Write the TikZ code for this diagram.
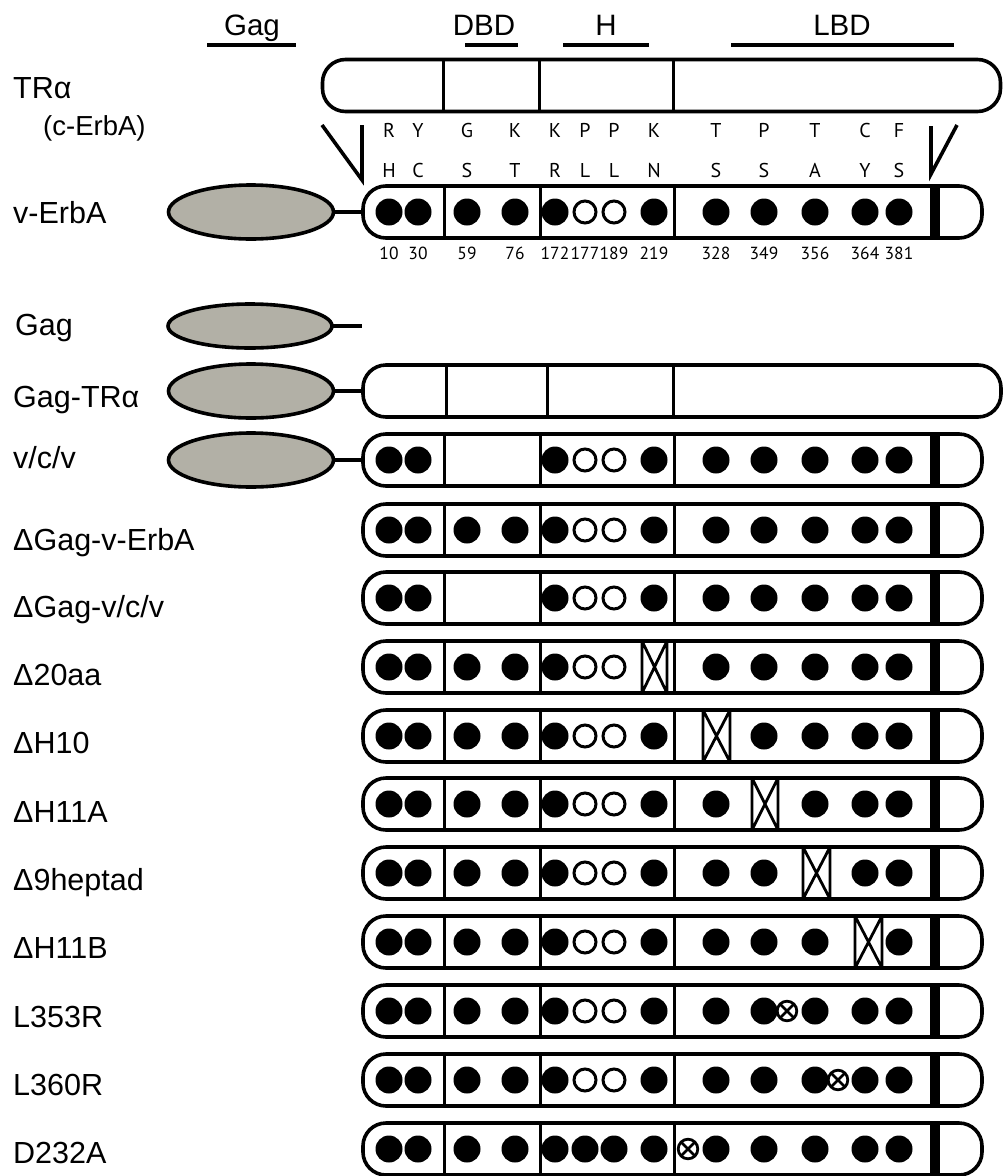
\documentclass[tikz,border=0pt]{standalone}
\usepackage{fontspec}
\setmainfont{Liberation Sans}
\newfontfamily\aafont{PT Sans}
\usetikzlibrary{shapes.geometric}
\definecolor{gaggray}{RGB}{178,176,166}

\newcommand\filldots[1]{\foreach \px in {#1} {\fill (\px,0) circle (13.5pt);}}
\newcommand\opendots[1]{\foreach \px in {#1} {\draw[line width=3pt] (\px,0) circle (11pt);}}
\newcommand\xbox[2]{\draw[line width=2.8pt] (#1,-26) rectangle (#2,26) (#1,-26) -- (#2,26) (#1,26) -- (#2,-26);}
\newcommand\xcirc[1]{\draw[line width=2.8pt, fill=white] (#1,0) circle (9.8pt);
  \draw[line width=2.6pt] (#1,0) ++(-7,-7) -- ++(14,14) (#1,0) ++(-7,7) -- ++(14,-14);}
\newcommand\protrow[2]{%
  \node[prot, minimum width=619pt] (#1) at (363,#2) {};
  \begin{scope}[shift={(0,#2)}]
    \draw[div] (444,-26) -- (444,26) (540,-26) -- (540,26) (674,-26) -- (674,26);
    \fill (929.5,-26) rectangle (939.5,26);
  \end{scope}}

\begin{document}
\begin{tikzpicture}[x=1pt,y=-1pt,
  lbl/.style={anchor=base west, font=\fontsize{30.5}{33}\selectfont, inner sep=0},
  hdr/.style={anchor=base, font=\fontsize{29.5}{32}\selectfont, inner sep=0},
  aa/.style={anchor=base, font=\aafont\fontsize{20}{22}\selectfont, inner sep=0},
  num/.style={anchor=base, font=\aafont\fontsize{17.5}{19}\selectfont, inner sep=0},
  prot/.style={draw, line width=3.6pt, rounded corners=23pt, minimum height=52pt, inner sep=0, outer sep=0, anchor=west},
  gagE/.style={ellipse, draw, line width=3.6pt, fill=gaggray, minimum width=165pt, minimum height=54pt, inner sep=0, outer sep=0},
  div/.style={line width=3pt},
  link/.style={line width=3.4pt},
  bar/.style={line width=3.6pt},
  vmark/.style={line width=3.6pt, miter limit=20}
]
\useasboundingbox (0,0) rectangle (1007,1176);

% header
\node[hdr] (hGag) at (252,35) {Gag};
\node[hdr] (hDBD) at (484,35) {DBD};
\node[hdr] (hH) at (606,35) {H};
\node[hdr] (hLBD) at (842,35) {LBD};
\draw[bar] (207,45) -- (296,45);
\draw[bar] (465,45) -- (518,45);
\draw[bar] (563,45) -- (649,45);
\draw[bar] (731,45) -- (954,45);

% TR alpha
\node[lbl] (lTR) at (13,98.5) {TRα};
\node[lbl, font=\fontsize{27.5}{30}\selectfont] (lcE) at (43,135) {(c-ErbA)};
\node[prot, minimum width=678pt] (pTR) at (322.5,85.5) {};
\draw[div] (443,59.5) -- (443,111.5) (539,59.5) -- (539,111.5) (673,59.5) -- (673,111.5);

% V marks
\draw[vmark] (322,125) -- (362,180) -- (362,125);
\draw[vmark] (931,126) -- (931,174) -- (957,125);

% residues and numbers
\foreach \px/\a/\b/\n in {389/R/H/10, 418/Y/C/30, 467/G/S/59, 515/K/T/76, 555/K/R/172, 585/P/L/177, 614/P/L/189, 654/K/N/219, 716/T/S/328, 764/P/S/349, 815/T/A/356, 865/C/Y/364, 899/F/S/381} {
  \node[aa] (t\n) at (\px,137) {\a};
  \node[aa] (m\n) at (\px,177) {\b};
  \node[num] (n\n) at (\px,259.5) {\n};
}

% v-ErbA
\node[lbl] (l1) at (13,223.5) {v-ErbA};
\node[gagE] (e1) at (251,212) {};
\protrow{p1}{212}
\draw[link] (e1.east) -- (p1.west);
\begin{scope}[shift={(0,212)}]
  \filldots{389,418,467,515,555,654,716,764,815,865,899}
  \opendots{585,614}
\end{scope}

% Gag
\node[lbl] (l2) at (15,335.5) {Gag};
\node[gagE, minimum height=44pt, minimum width=164pt] (e2) at (250,326) {};
\coordinate (gagend) at (362,326);
\draw[link] (e2.east) -- (gagend);

% Gag-TRalpha
\node[lbl] (l3) at (13,407) {Gag-TRα};
\node[gagE] (e3) at (251,391) {};
\node[prot, minimum width=638pt] (p3) at (363,391) {};
\draw[link] (e3.east) -- (p3.west);
\draw[div] (446,365) -- (446,417) (547,365) -- (547,417) (673,365) -- (673,417);

% v/c/v
\node[lbl] (l4) at (13,468) {v/c/v};
\node[gagE] (e4) at (251,460) {};
\protrow{p4}{460}
\draw[link] (e4.east) -- (p4.west);
\begin{scope}[shift={(0,460)}]
  \filldots{389,418,555,654,716,764,815,865,899}
  \opendots{585,614}
\end{scope}

% DeltaGag-v-ErbA
\node[lbl] (l5) at (13,550) {ΔGag-v-ErbA};
\protrow{p5}{530}
\begin{scope}[shift={(0,530)}]
  \filldots{389,418,467,515,555,654,716,764,815,865,899}
  \opendots{585,614}
\end{scope}

% DeltaGag-v/c/v
\node[lbl] (l6) at (13,617.5) {ΔGag-v/c/v};
\protrow{p6}{598}
\begin{scope}[shift={(0,598)}]
  \filldots{389,418,555,654,716,764,815,865,899}
  \opendots{585,614}
\end{scope}

% Delta20aa
\node[lbl] (l7) at (13,685.5) {Δ20aa};
\protrow{p7}{667}
\begin{scope}[shift={(0,667)}]
  \filldots{389,418,467,515,555,716,764,815,865,899}
  \opendots{585,614}
  \xbox{642}{667}
\end{scope}

% DeltaH10
\node[lbl] (l8) at (13,753.5) {ΔH10};
\protrow{p8}{736}
\begin{scope}[shift={(0,736)}]
  \filldots{389,418,467,515,555,654,764,815,865,899}
  \opendots{585,614}
  \xbox{703}{730}
\end{scope}

% DeltaH11A
\node[lbl] (l9) at (13,822.5) {ΔH11A};
\protrow{p9}{804}
\begin{scope}[shift={(0,804)}]
  \filldots{389,418,467,515,555,654,716,815,865,899}
  \opendots{585,614}
  \xbox{752}{778}
\end{scope}

% Delta9heptad
\node[lbl] (l10) at (13,890.5) {Δ9heptad};
\protrow{p10}{873}
\begin{scope}[shift={(0,873)}]
  \filldots{389,418,467,515,555,654,716,764,865,899}
  \opendots{585,614}
  \xbox{803}{830}
\end{scope}

% DeltaH11B
\node[lbl] (l11) at (13,958.5) {ΔH11B};
\protrow{p11}{942}
\begin{scope}[shift={(0,942)}]
  \filldots{389,418,467,515,555,654,716,764,815,899}
  \opendots{585,614}
  \xbox{855}{882}
\end{scope}

% L353R
\node[lbl] (l12) at (13,1027.5) {L353R};
\protrow{p12}{1011}
\begin{scope}[shift={(0,1011)}]
  \filldots{389,418,467,515,555,654,716,764,815,865,899}
  \opendots{585,614}
  \xcirc{787}
\end{scope}

% L360R
\node[lbl] (l13) at (13,1095.5) {L360R};
\protrow{p13}{1080}
\begin{scope}[shift={(0,1080)}]
  \filldots{389,418,467,515,555,654,716,764,815,865,899}
  \opendots{585,614}
  \xcirc{838}
\end{scope}

% D232A
\node[lbl] (l14) at (13,1163.5) {D232A};
\protrow{p14}{1149}
\begin{scope}[shift={(0,1149)}]
  \filldots{389,418,467,515,555,585,614,654,716,764,815,865,899}
  \xcirc{688}
\end{scope}
\end{tikzpicture}
\end{document}
